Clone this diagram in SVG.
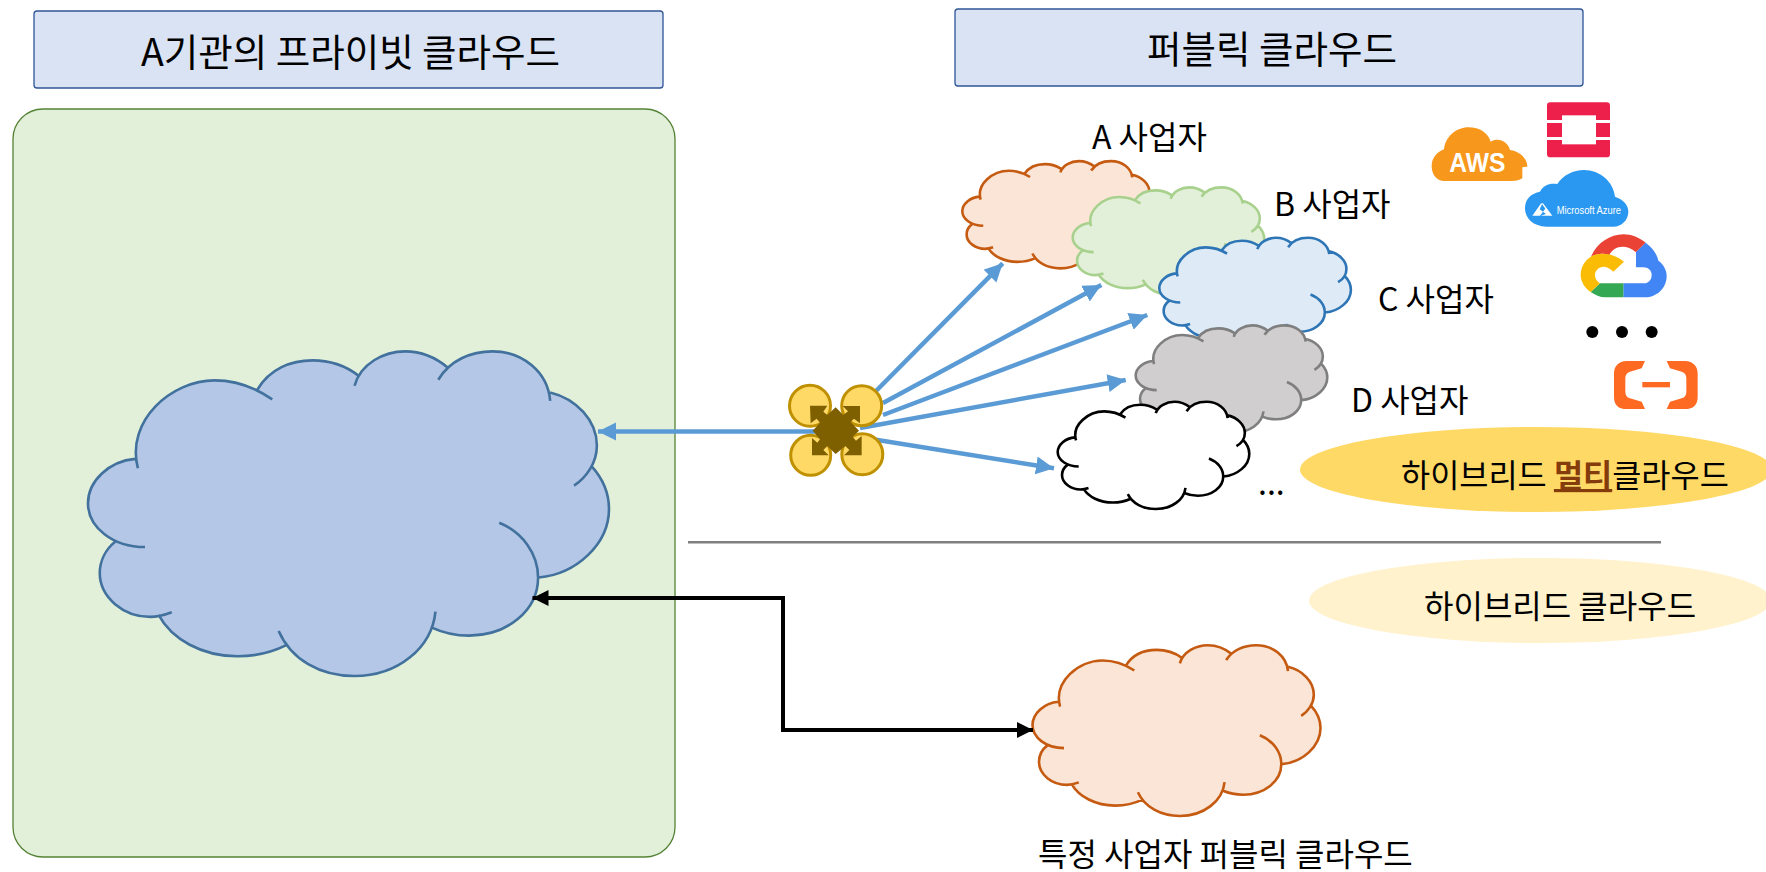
<svg xmlns="http://www.w3.org/2000/svg" xmlns:xlink="http://www.w3.org/1999/xlink" width="1766" height="872" viewBox="0 0 1766 872">
<style>
text{font-family:"Noto Sans CJK KR","Noto Sans",sans-serif;fill:#000}
.lg{font-size:37.5px}.md{font-size:32px}
.hdr{fill:#DAE3F3;stroke:#2F5597;stroke-width:1.3}
.cs{fill:none;stroke-width:2.6;vector-effect:non-scaling-stroke}
.blue{fill:none;stroke:#5B9BD5;stroke-width:4.5}
.blk{fill:none;stroke:#000;stroke-width:4}
.pet{fill:#FFD966;stroke:#BF9000;stroke-width:3}
</style>
<defs>
<marker id="ab" markerUnits="userSpaceOnUse" markerWidth="20" markerHeight="20" refX="18" refY="9" orient="auto-start-reverse"><path d="M0,0L18,9L0,18Z" fill="#5B9BD5"/></marker>
<marker id="ak" markerUnits="userSpaceOnUse" markerWidth="20" markerHeight="20" refX="16" refY="8" orient="auto-start-reverse"><path d="M0,0L16,8L0,16Z" fill="#000"/></marker>
<path id="cf" stroke="none" d="M190,413C155,270 285,150 405,150C465,150 520,172 567,207L525,178C560,115 620,90 680,90C730,90 775,108 808,135L798,166C815,100 880,63 940,63C990,63 1030,85 1060,112L1033,148C1065,90 1125,63 1185,63C1270,63 1340,125 1347,211L1347,186C1420,205 1478,270 1478,345C1478,395 1450,440 1414,465L1463,407C1495,445 1512,490 1512,535C1512,640 1420,730 1315,740L1204,576C1270,605 1313,670 1313,740C1313,840 1225,914 1120,914C1085,914 1045,905 1015,890L1025,842C1015,950 920,1035 798,1035C700,1035 620,985 585,900L608,942C565,965 520,976 470,976C370,976 285,925 248,852L285,844C265,852 245,858 225,858C150,858 83,800 83,727C83,690 100,655 127,632L210,649C120,649 50,590 50,518C50,450 110,392 182,385Z"/>
<path id="cl" class="cs" d="M190,413C155,270 285,150 405,150C465,150 520,172 567,207M525,178C560,115 620,90 680,90C730,90 775,108 808,135M798,166C815,100 880,63 940,63C990,63 1030,85 1060,112M1033,148C1065,90 1125,63 1185,63C1270,63 1340,125 1347,211M1347,186C1420,205 1478,270 1478,345C1478,395 1450,440 1414,465M1463,407C1495,445 1512,490 1512,535C1512,640 1420,730 1315,740M1204,576C1270,605 1313,670 1313,740C1313,840 1225,914 1120,914C1085,914 1045,905 1015,890M1025,842C1015,950 920,1035 798,1035C700,1035 620,985 585,900M608,942C565,965 520,976 470,976C370,976 285,925 248,852M285,844C265,852 245,858 225,858C150,858 83,800 83,727C83,690 100,655 127,632M210,649C120,649 50,590 50,518C50,450 110,392 182,385"/>
</defs>

<g id="panel-private"><rect x="13" y="109" width="662" height="748" rx="30" fill="#E2F0D9" stroke="#548235" stroke-width="1.3"/></g>
<g id="title-private"><rect class="hdr" x="34" y="11" width="629" height="77" rx="3"/><text class="lg" x="141" y="66">A기관의 프라이빗 클라우드</text></g>
<g id="title-public"><rect class="hdr" x="955" y="9" width="628" height="77" rx="3"/><text class="lg" x="1147" y="63">퍼블릭 클라우드</text></g>

<g id="ellipse-multi"><ellipse cx="1536" cy="469.5" rx="236" ry="42.5" fill="#FFD966"/>
<text x="1401" y="487" font-size="31.7">하이브리드 <tspan fill="#843C0C" font-weight="700" text-decoration="underline">멀티</tspan>클라우드</text></g>
<g id="ellipse-hybrid"><ellipse cx="1540" cy="600.5" rx="231" ry="42.5" fill="#FFF2CC"/>
<text class="md" x="1424" y="618">하이브리드 클라우드</text></g>
<g id="divider"><line x1="688" y1="542.3" x2="1661" y2="542.3" stroke="#7F7F7F" stroke-width="2.4"/></g>

<g id="cloud-private" transform="translate(88,351) scale(.35636,.33402) translate(-50,-62)" fill="#B4C7E7"><use xlink:href="#cf" href="#cf"/><use href="#cl" xlink:href="#cl" stroke="#41719C"/></g>
<g id="cloud-a" transform="translate(962.3,161) scale(.13105,.11035) translate(-50,-62)" fill="#FBE5D6"><use href="#cf" xlink:href="#cf"/><use href="#cl" xlink:href="#cl" stroke="#C55A11"/></g>
<g id="cloud-b" transform="translate(1072.7,187.3) scale(.13105,.11035) translate(-50,-62)" fill="#E2F0D9"><use href="#cf" xlink:href="#cf"/><use href="#cl" xlink:href="#cl" stroke="#A9D18E"/></g>
<g id="cloud-c" transform="translate(1159.3,237.7) scale(.13105,.11035) translate(-50,-62)" fill="#DEEBF7"><use href="#cf" xlink:href="#cf"/><use href="#cl" xlink:href="#cl" stroke="#2E75B6"/></g>
<g id="cloud-d" transform="translate(1135.7,325.3) scale(.13105,.11035) translate(-50,-62)" fill="#D0CECE"><use href="#cf" xlink:href="#cf"/><use href="#cl" xlink:href="#cl" stroke="#7F7F7F"/></g>
<g id="cloud-e" transform="translate(1057.7,401.7) scale(.13105,.11035) translate(-50,-62)" fill="#FFF"><use href="#cf" xlink:href="#cf"/><use href="#cl" xlink:href="#cl" stroke="#000"/></g>
<g id="cloud-specific" transform="translate(1032.5,645) scale(.197,.1757) translate(-50,-62)" fill="#FBE5D6"><use href="#cf" xlink:href="#cf"/><use href="#cl" xlink:href="#cl" stroke="#C55A11"/></g>

<g id="connectors">
<path class="blue" marker-end="url(#ab)" d="M835,431.5L598,431.5"/>
<path class="blue" marker-end="url(#ab)" d="M875,392L1002.7,263.3"/>
<path class="blue" marker-end="url(#ab)" d="M883,403L1101.3,285"/>
<path class="blue" marker-end="url(#ab)" d="M883,415L1147.3,315"/>
<path class="blue" marker-end="url(#ab)" d="M860,428L1125.7,380"/>
<path class="blue" marker-end="url(#ab)" d="M865,438L1054,468.3"/>
<path class="blk" marker-start="url(#ak)" marker-end="url(#ak)" d="M532.5,598H783V730H1033"/>
</g>

<g id="hub">
<circle class="pet" cx="810" cy="405.7" r="20.5"/><circle class="pet" cx="861.7" cy="405.7" r="20"/><circle class="pet" cx="810.7" cy="455.3" r="20"/><circle class="pet" cx="862.3" cy="454.3" r="20.5"/>
<polygon transform="translate(770,370) scale(.3333)" fill="#7F6000" points="197,112 220,135 234,124 218,108 270,108 270,160 252,146 242,156 267,182 248,200 258,212 275,198 275,256 222,256 238,240 226,228 197,252 172,228 160,240 176,256 126,256 126,204 142,218 150,208 128,182 150,158 140,146 122,160 120,107 172,107 160,125 172,135"/>
</g>

<g id="labels">
<text class="md" x="1092" y="149">A 사업자</text>
<text class="md" x="1274" y="216">B 사업자</text>
<text class="md" x="1378" y="311">C 사업자</text>
<text class="md" x="1351" y="412">D 사업자</text>
<text class="md" x="1258" y="495">...</text>
<text class="md" x="1038" y="866">특정 사업자 퍼블릭 클라우드</text>
</g>

<g id="vendor-logos" transform="translate(1400,90) scale(.33333)">
<g id="logo-aws"><path fill="#F7981D" d="M130,273C100,270 95,240 95,228C95,200 115,185 132,178C135,140 170,112 205,112C240,112 265,130 272,155C295,140 325,155 330,180C365,185 382,210 382,230L367,232L367,265C360,270 350,273 335,273Z"/>
<text x="148" y="245" font-size="84" font-weight="700" style="fill:#fff;font-family:'Liberation Sans',sans-serif" textLength="168" lengthAdjust="spacingAndGlyphs">AWS</text></g>
<g id="logo-openstack"><rect x="441" y="37" width="189" height="165" rx="10" fill="#ED1F4B"/><rect x="486" y="76" width="102" height="87" fill="#fff"/><rect x="441" y="90" width="189" height="9" fill="#fff"/><rect x="441" y="141" width="189" height="9" fill="#fff"/></g>
<g id="logo-azure"><path fill="#2A98F1" d="M440,410C400,410 375,385 375,355C375,325 395,310 420,305C430,285 450,278 472,282C490,255 520,240 552,240C600,240 640,275 645,320C670,328 685,345 685,365C685,390 665,410 640,410Z"/>
<path fill="#fff" d="M424,339L397,377H420L436,356ZM428,338L457,377H422L438,372L419,358Z"/>
<text x="470" y="372" font-size="30" style="fill:#fff;font-family:'Liberation Sans',sans-serif" textLength="193" lengthAdjust="spacingAndGlyphs">Microsoft Azure</text></g>
<g id="logo-gcp">
<path fill="#EA4335" d="M573,500C590,460 630,433 670,433C695,433 718,443 737,458L708,487C695,475 680,470 668,470C650,470 635,480 628,495C620,492 612,491 605,491C595,491 583,495 573,500Z"/>
<path fill="#4285F4" d="M737,458C760,475 772,495 775,512C790,522 800,540 800,558C800,595 770,622 735,622H670V580H732C745,580 755,570 755,555C755,542 745,532 730,532H708V487Z"/>
<path fill="#34A853" d="M600,580H670V622H615C600,622 585,615 572,606Z"/>
<path fill="#FBBC05" d="M605,491C630,491 655,500 672,515L640,545C630,535 618,530 612,530C595,530 585,543 585,555C585,565 590,575 600,580L572,606C555,595 542,575 542,555C542,520 570,491 605,491Z"/></g>
<g id="logo-dots"><circle cx="577" cy="726" r="18"/><circle cx="666" cy="726" r="18"/><circle cx="755" cy="726" r="18"/></g>
<g id="logo-alibaba" fill="#FF6A22"><path d="M735,813H680C655,813 642,830 642,850V920C642,945 655,957 680,957H735L725,935L690,925C680,922 676,915 676,905V865C676,855 680,848 690,845L725,835Z"/><path d="M800,813H855C880,813 893,830 893,850V920C893,945 880,957 855,957H800L810,935L845,925C855,922 859,915 859,905V865C859,855 855,848 845,845L810,835Z"/><rect x="727" y="876" width="83" height="16"/></g>
</g>
</svg>
